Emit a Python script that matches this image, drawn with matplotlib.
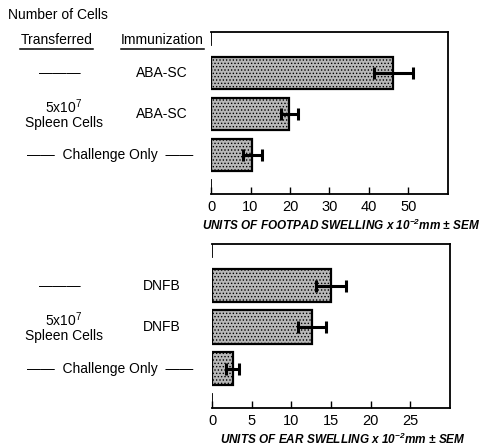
import matplotlib
matplotlib.use('Agg')
import matplotlib.pyplot as plt
import matplotlib.transforms as mtransforms

# 数据
footpad_vals = [46.2, 19.8, 10.5]
footpad_err = [5.0, 2.2, 2.5]
ear_vals = [15.0, 12.6, 2.6]
ear_err = [1.9, 1.8, 0.8]
footpad_ticks = [0, 10, 20, 30, 40, 50]
ear_ticks = [0, 5, 10, 15, 20, 25]
top_immun = ['ABA-SC', 'ABA-SC']
bottom_immun = ['DNFB', 'DNFB']
footpad_label = r'UNITS OF FOOTPAD SWELLING x 10$^{-2}$mm ± SEM'
ear_label = r'UNITS OF EAR SWELLING x 10$^{-2}$mm ± SEM'

plt.rcParams['font.family'] = ['Liberation Sans', 'DejaVu Sans']
plt.rcParams['mathtext.default'] = 'regular'
plt.rcParams['hatch.linewidth'] = 0.6

fig = plt.figure(figsize=(4.8, 4.47), dpi=100)
ax1 = fig.add_axes([0.4396, 0.566, 0.4937, 0.3624])
ax2 = fig.add_axes([0.4417, 0.0872, 0.4958, 0.3669])


def draw_panel(ax, vals, errs, ticks, xmax, label):
    rows = list(range(len(vals)))
    ax.barh(rows, vals, height=0.8, color='#b8b8b8', edgecolor='black',
            linewidth=1.6, hatch='.....', zorder=2)
    ax.errorbar(vals, rows, xerr=errs, fmt='none', ecolor='black',
                elinewidth=2.2, capsize=4.5, capthick=2.2, zorder=3)
    ax.set_xlim(0, xmax)
    ax.set_ylim(2.95, -1.0)
    ax.set_yticks([])
    ax.set_xticks(ticks)
    ax.tick_params(axis='x', direction='in', length=5, width=1, labelsize=10.5, pad=4)
    ax.spines['left'].set_visible(False)
    for s in ['top', 'right', 'bottom']:
        ax.spines[s].set_linewidth(1.3)
    # 左边框只留上下两小段
    ax.axvline(0, ymin=0.92, ymax=1.0, color='black', lw=1.3)
    ax.axvline(0, ymin=0.0, ymax=0.085, color='black', lw=1.3)
    ax.set_xlabel(label, fontsize=8.5, fontstyle='italic', fontweight='bold',
                  labelpad=3, x=0.55)


draw_panel(ax1, footpad_vals, footpad_err, footpad_ticks, 60, footpad_label)
draw_panel(ax2, ear_vals, ear_err, ear_ticks, 30, ear_label)

# 左侧文字
fs = 10
fig.text(8 / 480, 1 - 15 / 447, 'Number of Cells', fontsize=fs, va='center', ha='left')
fig.text(57 / 480, 1 - 40 / 447, 'Transferred', fontsize=fs, va='center', ha='center')
fig.text(162 / 480, 1 - 40 / 447, 'Immunization', fontsize=fs, va='center', ha='center')
# 下划线
fig.add_artist(plt.Line2D([20 / 480, 93 / 480], [1 - 49 / 447, 1 - 49 / 447], color='black', lw=1.1))
fig.add_artist(plt.Line2D([121 / 480, 204 / 480], [1 - 49 / 447, 1 - 49 / 447], color='black', lw=1.1))

for ax, immun in [(ax1, top_immun), (ax2, bottom_immun)]:
    tr = mtransforms.blended_transform_factory(fig.transFigure, ax.transData)
    ax.text(60 / 480, 0, '———', fontsize=fs, va='center', ha='center', transform=tr)
    ax.text(162 / 480, 0, immun[0], fontsize=fs, va='center', ha='center', transform=tr)
    ax.text(64 / 480, 1, '5x10$^7$\nSpleen Cells', fontsize=fs, va='center', ha='center',
            transform=tr, linespacing=1.0)
    ax.text(162 / 480, 1, immun[1], fontsize=fs, va='center', ha='center', transform=tr)
    ax.text(110 / 480, 2, '——  Challenge Only  ——', fontsize=fs, va='center', ha='center',
            transform=tr)

plt.savefig('out.png', dpi=100)
